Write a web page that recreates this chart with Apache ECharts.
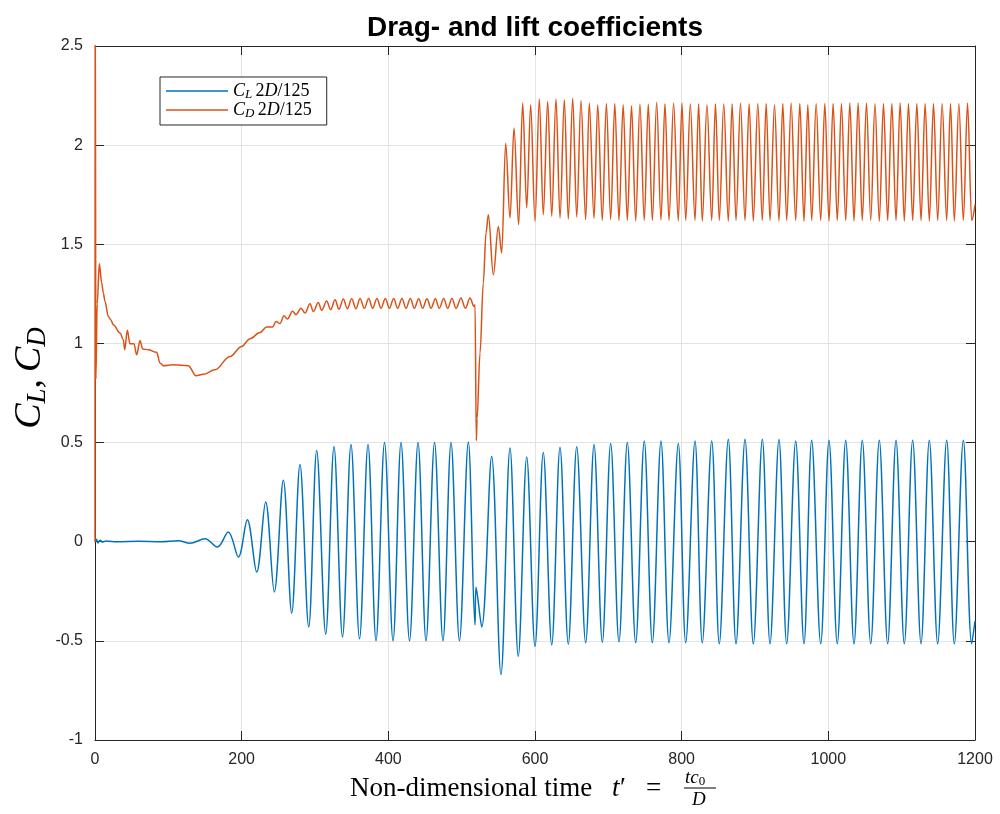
<!DOCTYPE html>
<html>
<head>
<meta charset="utf-8">
<script src="https://cdn.jsdelivr.net/npm/echarts@6/dist/echarts.min.js"></script>
<style>
  html, body { margin: 0; padding: 0; background: #fff; }
  #chart { width: 1000px; height: 814px; }
</style>
</head>
<body>
<div id="chart"></div>
<script>
// Time axis (non-dimensional) and coefficient axis ticks
const xTicks = [0, 200, 400, 600, 800, 1000, 1200];
const yTicks = [-1, -0.5, 0, 0.5, 1, 1.5, 2, 2.5];

// Lift coefficient C_L: [t', value] at turning points of the trace
const liftGrowth = [
  [0, 0], [2, 0.012], [4, -0.006], [7, 0.008], [10, -0.002], [15, 0.003], [30, 0.0], [60, 0.002],
  [90, 0.0], [113.6, 0.005], [129.5, -0.008], [150, 0.015], [166.8, -0.027], [181.8, 0.049],
  [195.5, -0.077], [207.7, 0.111], [220.5, -0.153], [232.7, 0.2], [244.5, -0.253], [256.8, 0.31],
  [268.2, -0.359], [279.5, 0.39], [291.4, -0.43], [302.3, 0.46], [314.6, -0.466]
];
const liftSaturated = [
  [325.9, 0.48], [337.5, -0.48], [349.1, 0.49], [360.7, -0.49], [372.3, 0.49], [383.2, -0.5],
  [394.8, 0.5], [406.4, -0.5], [417.3, 0.5], [428.9, -0.5], [440.5, 0.5], [451.4, -0.5],
  [463.0, 0.5], [474.5, -0.5], [485.5, 0.5], [497.0, -0.5], [509.1, 0.503], [518.2, -0.42],
  [519.6, -0.23], [527.3, -0.43]
];
const liftShedding = [
  [540.9, 0.43], [553.6, -0.67], [565.9, 0.472], [577.2, -0.578], [588.7, 0.427], [600.0, -0.528],
  [611.3, 0.45], [622.8, -0.52], [634.1, 0.476], [645.4, -0.517], [656.9, 0.479], [669.1, -0.51],
  [680.5, 0.49], [691.8, -0.507], [703.2, 0.495], [714.5, -0.505], [725.9, 0.50], [737.3, -0.51],
  [749.0, 0.508], [760.0, -0.51], [771.8, 0.508], [782.7, -0.51], [795.4, 0.495], [805.5, -0.51],
  [818.2, 0.508], [828.1, -0.51], [841.0, 0.508], [851.3, -0.515], [863.6, 0.517], [874.1, -0.515],
  [886.4, 0.517], [897.7, -0.515], [910.0, 0.517], [920.5, -0.515], [932.7, 0.515], [943.2, -0.515],
  [955.5, 0.508], [966.8, -0.515], [977.3, 0.512], [989.6, -0.515], [1000.9, 0.512], [1012.2, -0.515],
  [1023.7, 0.512], [1035.0, -0.515], [1046.3, 0.512], [1057.8, -0.515], [1069.5, 0.512], [1080.9, -0.515],
  [1092.3, 0.512], [1103.6, -0.515], [1115.0, 0.512], [1126.4, -0.515], [1137.7, 0.512], [1149.1, -0.515],
  [1161.4, 0.512], [1171.8, -0.515], [1184.1, 0.512], [1195.5, -0.515], [1200, -0.4]
];

// Drag coefficient C_D: [t', value]
const dragStartup = [
  [0, 0], [0.3, 2.9], [1.2, 0.82], [3, 1.2], [5.9, 1.402], [9.1, 1.305], [11.4, 1.254], [13.6, 1.212],
  [18.2, 1.136], [21.4, 1.12], [25, 1.094], [34.1, 1.052], [38.6, 1.019], [40.5, 0.968], [44.1, 1.066],
  [47.7, 0.998], [53.2, 0.998], [56.8, 0.943], [61.4, 1.015], [65, 0.972], [72.7, 0.968], [84.1, 0.955],
  [88.6, 0.901], [93.1, 0.888], [106.8, 0.893], [127.2, 0.888], [137.7, 0.837], [147.7, 0.844],
  [163.6, 0.867], [184.1, 0.934], [200, 0.985], [211.4, 1.024], [225, 1.055], [234.1, 1.083],
  [242.3, 1.083], [246.8, 1.111], [252.3, 1.1]
];
const dragPlateau = [
  [257.7, 1.140], [262.3, 1.123], [269.5, 1.162], [274.1, 1.145], [280.9, 1.178], [286.4, 1.153],
  [293.2, 1.200], [297.7, 1.161], [304.5, 1.207], [309.1, 1.167], [315.9, 1.214], [321.4, 1.170],
  [327.3, 1.220], [332.7, 1.173], [338.6, 1.224], [344.1, 1.175], [350.0, 1.225], [355.9, 1.175],
  [361.4, 1.227], [367.3, 1.177], [373.2, 1.227], [378.6, 1.177], [384.5, 1.227], [390.0, 1.177],
  [395.9, 1.227], [401.4, 1.177], [407.3, 1.227], [412.7, 1.177], [418.6, 1.227], [424.1, 1.177],
  [430.0, 1.227], [435.5, 1.177], [441.4, 1.225], [446.8, 1.177], [452.7, 1.225], [458.2, 1.177],
  [464.1, 1.225], [469.5, 1.177], [475.5, 1.227], [480.9, 1.177], [486.8, 1.227], [492.3, 1.177],
  [499.1, 1.229], [505.0, 1.177], [511.4, 1.229], [516.8, 1.187], [518.2, 1.195]
];
const dragTransition = [
  [520.0, 0.51], [521.0, 0.62], [525.0, 0.95], [529.5, 1.305], [533.2, 1.557], [536.4, 1.649],
  [543.2, 1.346], [550.0, 1.59], [554.6, 1.456], [560.0, 2.01], [565.9, 1.632], [571.4, 2.086],
  [577.7, 1.599]
];
const dragShedding = [
  [583.2, 2.212], [588.7, 1.683], [594.1, 2.204], [600.0, 1.615], [605.9, 2.233], [611.3, 1.649],
  [617.3, 2.221], [622.8, 1.641], [628.6, 2.233], [634.1, 1.632], [640.0, 2.229], [645.4, 1.627],
  [651.4, 2.237], [656.9, 1.637], [662.7, 2.225], [669.1, 1.624], [674.0, 2.212], [680.5, 1.63],
  [685.5, 2.204], [691.8, 1.62], [697.3, 2.21], [703.2, 1.625], [708.8, 2.21], [714.5, 1.62],
  [720.2, 2.204], [725.9, 1.62], [731.6, 2.199], [737.3, 1.618], [743.1, 2.207], [749.0, 1.62],
  [754.5, 2.207], [760.0, 1.62], [765.9, 2.216], [771.8, 1.622], [777.2, 2.209], [782.7, 1.62],
  [789.0, 2.212], [795.4, 1.618], [800.4, 2.212], [805.5, 1.62], [811.8, 2.209], [818.2, 1.62],
  [823.1, 2.209], [828.1, 1.617], [834.5, 2.204], [841.0, 1.62], [846.1, 2.209], [851.3, 1.62],
  [857.4, 2.209], [863.6, 1.616], [868.8, 2.209], [874.1, 1.62], [880.2, 2.213], [886.4, 1.62],
  [892.0, 2.209], [897.7, 1.617], [903.8, 2.21], [910.0, 1.62], [915.2, 2.21], [920.5, 1.62],
  [926.6, 2.204], [932.7, 1.618], [937.9, 2.21], [943.2, 1.62], [949.3, 2.213], [955.5, 1.62],
  [961.1, 2.21], [966.8, 1.616], [972.0, 2.204], [977.3, 1.62], [983.4, 2.21], [989.6, 1.62],
  [995.2, 2.21], [1000.9, 1.617], [1006.5, 2.21], [1012.2, 1.62], [1017.9, 2.21], [1023.7, 1.62],
  [1029.3, 2.213], [1035.0, 1.618], [1040.6, 2.213], [1046.3, 1.62], [1052.0, 2.213], [1057.8, 1.62],
  [1063.6, 2.21], [1069.5, 1.616], [1075.2, 2.21], [1080.9, 1.62], [1086.6, 2.21], [1092.3, 1.62],
  [1097.9, 2.213], [1103.6, 1.618], [1109.3, 2.21], [1115.0, 1.62], [1120.7, 2.21], [1126.4, 1.62],
  [1132.0, 2.21], [1137.7, 1.617], [1143.4, 2.21], [1149.1, 1.62], [1155.2, 2.21], [1161.4, 1.62],
  [1166.6, 2.21], [1171.8, 1.618], [1178.0, 2.21], [1184.1, 1.62], [1189.8, 2.213], [1195.5, 1.62],
  [1200, 1.70]
];

const liftData = liftGrowth.concat(liftSaturated, liftShedding);
const dragData = dragStartup.concat(dragPlateau, dragTransition, dragShedding);

const AXIS = '#262626';
const GRID = '#e3e3e3';
const SANS = '"Liberation Sans", Arial, Helvetica, sans-serif';
const SERIF = '"Liberation Serif", "Times New Roman", serif';

// rich-text styles for italic symbols with subscripts
const mathRich = (size, lh) => ({
  i: { fontFamily: SERIF, fontStyle: 'italic', fontSize: size, color: '#000', lineHeight: lh },
  r: { fontFamily: SERIF, fontSize: size, color: '#000', lineHeight: lh },
  g: { fontFamily: SERIF, fontSize: size, color: '#000', lineHeight: lh, width: Math.round(size * 0.18) },
  s: { fontFamily: SERIF, fontStyle: 'italic', fontSize: Math.round(size * 0.7), color: '#000',
       verticalAlign: 'bottom', lineHeight: Math.round(size * 0.62) }
});

const legendLabels = {
  'CL': '{i|C}{s|L} {r|2}{i|D}{r|/125}',
  'CD': '{i|C}{s|D} {r|2}{i|D}{r|/125}'
};

const chart = echarts.init(document.getElementById('chart'), null, { renderer: 'canvas' });

const baseX = {
  type: 'value', min: xTicks[0], max: xTicks[xTicks.length - 1], interval: 200,
  axisLine: { show: true, onZero: false, lineStyle: { color: AXIS, width: 1 } },
  axisTick: { show: true, inside: true, length: 9, lineStyle: { color: AXIS } }
};
const baseY = {
  type: 'value', min: yTicks[0], max: yTicks[yTicks.length - 1], interval: 0.5,
  axisLine: { show: true, onZero: false, lineStyle: { color: AXIS, width: 1 } },
  axisTick: { show: true, inside: true, length: 9, lineStyle: { color: AXIS } }
};

const serifText = (size, italic) => ({
  fontFamily: SERIF, fontSize: size, fontStyle: italic ? 'italic' : 'normal', fill: '#000', verticalAlign: 'top'
});

chart.setOption({
  animation: false,
  backgroundColor: '#fff',
  title: {
    text: 'Drag- and lift coefficients',
    left: 530, top: 9, textAlign: 'center',
    textStyle: { fontFamily: SANS, fontSize: 28, fontWeight: 'bold', color: '#000' }
  },
  grid: { left: 95, right: 25, top: 46, bottom: 74, containLabel: false },
  legend: {
    orient: 'vertical', left: 160, top: 77,
    padding: [5, 15, 5, 6], itemGap: 0, itemWidth: 62, itemHeight: 1.5,
    icon: 'rect',
    borderColor: AXIS, borderWidth: 1, backgroundColor: '#fff',
    data: ['CL', 'CD'],
    formatter: (name) => legendLabels[name],
    textStyle: { rich: mathRich(18, 20) }
  },
  xAxis: [
    Object.assign({}, baseX, {
      position: 'bottom',
      axisLabel: { color: AXIS, fontFamily: SANS, fontSize: 16, margin: 12, formatter: (v) => String(v) },
      splitLine: { show: true, lineStyle: { color: GRID, width: 1 } }
    }),
    Object.assign({}, baseX, {
      position: 'top', axisLabel: { show: false }, splitLine: { show: false }
    })
  ],
  yAxis: [
    Object.assign({}, baseY, {
      position: 'left',
      axisLabel: { color: AXIS, fontFamily: SANS, fontSize: 16, margin: 12, formatter: (v) => String(v) },
      splitLine: { show: true, lineStyle: { color: GRID, width: 1 } }
    }),
    Object.assign({}, baseY, {
      position: 'right', axisLabel: { show: false }, splitLine: { show: false }
    })
  ],
  series: [
    {
      name: 'CL', type: 'line', xAxisIndex: 0, yAxisIndex: 0,
      data: liftData, showSymbol: false, symbol: 'none',
      smooth: 0.35, clip: true,
      lineStyle: { color: '#0072BD', width: 1.5 }, itemStyle: { color: '#0072BD' }
    },
    {
      name: 'CD', type: 'line', xAxisIndex: 0, yAxisIndex: 0,
      data: dragData, showSymbol: false, symbol: 'none',
      smooth: 0.35, smoothMonotone: 'x', clip: true,
      lineStyle: { color: '#D95319', width: 1.5 }, itemStyle: { color: '#D95319' }
    }
  ],
  graphic: [
    {
      // vertical axis label C_L, C_D
      type: 'text', x: 30, y: 378, rotation: Math.PI / 2,
      style: {
        text: '{i|C}{s|L}{r|,}{g| }{i|C}{s|D}',
        rich: mathRich(38, 42), align: 'center', verticalAlign: 'middle'
      }
    },
    {
      // horizontal axis label with the fraction t c0 / D
      type: 'group', left: 350, top: 768,
      children: [
        { type: 'text', x: 0, y: 9, style: Object.assign(serifText(27, false), { text: 'Non-dimensional time' }) },
        { type: 'text', x: 262, y: 9, style: Object.assign(serifText(27, true), { text: 't' }) },
        { type: 'text', x: 270, y: 9, style: Object.assign(serifText(27, false), { text: '′' }) },
        { type: 'text', x: 296, y: 9, style: Object.assign(serifText(27, false), { text: '=' }) },
        {
          type: 'text', x: 335, y: 1,
          style: {
            text: '{i|tc}{s|0}',
            rich: {
              i: { fontFamily: SERIF, fontSize: 19, fontStyle: 'italic', color: '#000', lineHeight: 21 },
              s: { fontFamily: SERIF, fontSize: 13, color: '#000', verticalAlign: 'bottom', lineHeight: 13 }
            },
            verticalAlign: 'top'
          }
        },
        { type: 'line', shape: { x1: 334, y1: 22, x2: 366, y2: 22 }, style: { stroke: '#000', lineWidth: 1 } },
        { type: 'text', x: 342, y: 24, style: Object.assign(serifText(19, true), { text: 'D' }) }
      ]
    }
  ]
});
</script>
</body>
</html>
